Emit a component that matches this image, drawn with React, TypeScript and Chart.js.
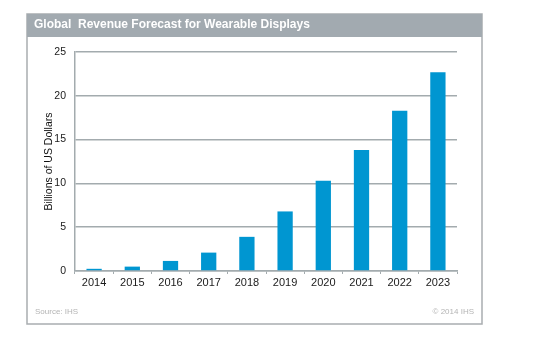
import React, { useEffect, useRef } from "react";
import { Chart, registerables } from "chart.js";

Chart.register(...registerables);

const years = ["2014", "2015", "2016", "2017", "2018", "2019", "2020", "2021", "2022", "2023"];
const revenue = [0.25, 0.5, 1.15, 2.1, 3.9, 6.8, 10.3, 13.8, 18.3, 22.7];
const yTicks = [0, 5, 10, 15, 20, 25];
const titleText = "Global  Revenue Forecast for Wearable Displays";
const yAxisTitle = "Billions of US Dollars";
const sourceText = "Source: IHS";
const copyrightText = "\u00A9 2014 IHS";

const GRAY = "#a3abae";
const FONT = "Arial, 'Liberation Sans', sans-serif";

const framePlugin = {
  id: "frame",
  beforeDraw(chart: any) {
    const ctx = chart.ctx;
    ctx.save();
    ctx.fillStyle = "#ffffff";
    ctx.fillRect(0, 0, chart.width, chart.height);
    // frame
    ctx.strokeStyle = "#a9adb0";
    ctx.lineWidth = 1.5;
    ctx.strokeRect(27, 14, 455, 310);
    // title bar
    ctx.fillStyle = "#a2aab0";
    ctx.fillRect(27, 14, 455, 23);
    ctx.fillStyle = "#ffffff";
    ctx.font = "bold 12px " + FONT;
    ctx.textBaseline = "middle";
    ctx.textAlign = "left";
    ctx.fillText(titleText, 34, 25);
    // footer
    ctx.fillStyle = "#b4b4b4";
    ctx.font = "8px " + FONT;
    ctx.fillText(sourceText, 35, 312);
    ctx.textAlign = "right";
    ctx.fillText(copyrightText, 474, 312);
    ctx.restore();
  },
};

export default function App() {
  const ref = useRef<HTMLCanvasElement | null>(null);
  useEffect(() => {
    if (!ref.current) return;
    const chart = new Chart(ref.current, {
      type: "bar",
      data: {
        labels: years,
        datasets: [
          {
            data: revenue,
            backgroundColor: "#0096d1",
            borderWidth: 0,
            barPercentage: 0.4,
            categoryPercentage: 1,
          },
        ],
      },
      options: {
        animation: false,
        responsive: false,
        maintainAspectRatio: false,
        layout: { padding: { left: 30, top: 52, right: 86, bottom: 58 } },
        plugins: { legend: { display: false }, tooltip: { enabled: false } },
        scales: {
          x: {
            grid: {
              display: true,
              offset: true,
              drawOnChartArea: false,
              drawTicks: true,
              tickLength: 3,
              color: GRAY,
            },
            border: { display: true, color: GRAY, width: 1.5 },
            ticks: { color: "#1a1a1a", font: { family: FONT, size: 11 }, padding: 2 },
            afterFit(scale: any) {
              scale.height = 30;
            },
          },
          y: {
            min: 0,
            max: 25,
            afterBuildTicks(scale: any) {
              scale.ticks = yTicks.map((v) => ({ value: v }));
            },
            grid: { color: GRAY, lineWidth: 1.5, drawTicks: false },
            border: { display: true, color: GRAY, width: 1.5 },
            ticks: { color: "#1a1a1a", font: { family: FONT, size: 10.5 }, padding: 9 },
            title: {
              display: true,
              text: yAxisTitle,
              color: "#111",
              font: { family: FONT, size: 10.5 },
              padding: { top: 13, bottom: 0 },
            },
            afterFit(scale: any) {
              scale.width = 45;
            },
          },
        },
      },
      plugins: [framePlugin],
    } as any);
    return () => chart.destroy();
  }, []);
  return (
    <div style={{ position: "fixed", left: 0, top: 0, width: 543, height: 359, background: "#fff" }}>
      <canvas ref={ref} width={543} height={359} style={{ display: "block", width: 543, height: 359 }} />
    </div>
  );
}
